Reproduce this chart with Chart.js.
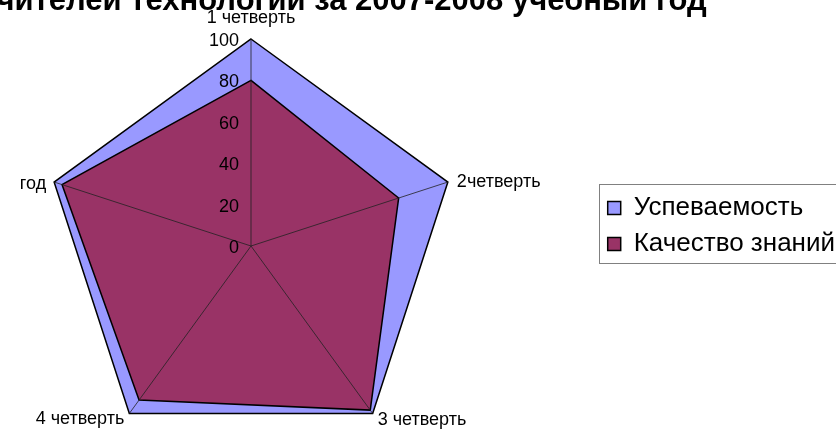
<!DOCTYPE html>
<html>
<head>
<meta charset="utf-8">
<script src="https://cdn.jsdelivr.net/npm/chart.js@4.4.1/dist/chart.umd.min.js"></script>
<style>
  html, body { margin: 0; padding: 0; background: #fff; overflow: hidden; width: 836px; height: 430px; }
  /* canvas is a bit larger than the window so the cut-off title and legend frame match the original */
  #wrap { position: absolute; left: -94px; top: -1px; width: 939px; height: 454px; }
</style>
</head>
<body>
<div id="wrap"><canvas id="myChart"></canvas></div>
<script>
// DATA
const categories = ['1 четверть', '2четверть', '3 четверть', '4 четверть', 'год'];
const progress = [100, 100, 100, 100, 100];   // Успеваемость
const quality = [80, 75, 98, 92, 96];         // Качество знаний
const tickValues = [0, 20, 40, 60, 80, 100];
const titleLines = ['учителей технологии за 2007-2008 учебный год'];

const FONT = '"Liberation Sans", Arial, sans-serif';

// where each category label sits relative to its spoke end
const labelSpots = [
    { align: 'center', dx: 0, dy: -21 },
    { align: 'left', dx: 9, dy: 0 },
    { align: 'left', dx: 5, dy: 7 },
    { align: 'right', dx: -5, dy: 6 },
    { align: 'right', dx: -8, dy: 2 }
];

// spokes, tick numbers and category labels go on top of the filled areas
const overlay = {
    id: 'overlay',
    afterDatasetsDraw(chart) {
        const r = chart.scales.r;
        const ctx = chart.ctx;
        ctx.save();
        ctx.strokeStyle = '#222';
        ctx.lineWidth = 0.8;
        categories.forEach((c, i) => {
            const p = r.getPointPositionForValue(i, r.max);
            ctx.beginPath();
            ctx.moveTo(r.xCenter, r.yCenter);
            ctx.lineTo(p.x, p.y);
            ctx.stroke();
        });

        ctx.fillStyle = '#000';
        ctx.textBaseline = 'middle';
        ctx.font = '18px ' + FONT;
        ctx.textAlign = 'right';
        r.ticks.forEach(t => {
            const y = r.yCenter - r.getDistanceFromCenterForValue(t.value);
            ctx.fillText(String(t.value), r.xCenter - 12, y + 2);
        });

        categories.forEach((c, i) => {
            const p = r.getPointPositionForValue(i, r.max);
            const s = labelSpots[i];
            ctx.textAlign = s.align;
            ctx.fillText(c, p.x + s.dx, p.y + s.dy);
        });
        ctx.restore();
    },
    afterDraw(chart) {
        // grey frame round the legend
        const hb = chart.legend.legendHitBoxes;
        if (!hb || !hb.length) return;
        const last = hb[hb.length - 1];
        const top = hb[0].top - 11;
        const bottom = last.top + last.height + 6;
        const left = hb[0].left - 9;
        const ctx = chart.ctx;
        ctx.save();
        ctx.strokeStyle = '#808080';
        ctx.lineWidth = 1;
        ctx.strokeRect(Math.round(left) + 0.5, Math.round(top) + 0.5, chart.width, Math.round(bottom - top));
        ctx.restore();
    }
};

const radarData = {
    labels: categories,
    datasets: [{
        label: 'Успеваемость',
        data: progress,
        backgroundColor: '#9999ff',
        borderColor: '#000',
        borderWidth: 1.5,
        fill: true,
        order: 1
    }, {
        label: 'Качество знаний',
        data: quality,
        backgroundColor: '#993366',
        borderColor: '#000',
        borderWidth: 1.5,
        fill: true,
        order: 0
    }]
};

const radarConfig = {
    type: 'radar',
    data: radarData,
    options: {
        responsive: true,
        maintainAspectRatio: false,
        animation: false,
        // negative left padding only widens the title box, so the title sits further left
        layout: { padding: { left: -65 } },
        elements: {
            point: { radius: 0, hoverRadius: 0 },
            line: { tension: 0 }
        },
        scales: {
            r: {
                min: 0,
                max: 100,
                afterBuildTicks: s => { s.ticks = tickValues.map(v => ({ value: v })); },
                ticks: { display: false },
                grid: { display: false },
                angleLines: { display: false },
                pointLabels: { display: false }
            }
        },
        plugins: {
            title: {
                display: true,
                text: titleLines,
                color: '#000',
                font: { family: FONT, size: 31, weight: 'bold', lineHeight: 1 },
                padding: { top: -13, bottom: 22 }
            },
            legend: {
                position: 'right',
                labels: {
                    color: '#000',
                    font: { family: FONT, size: 26 },
                    boxWidth: 13,
                    boxHeight: 13,
                    padding: 10,
                    sort: (a, b) => a.datasetIndex - b.datasetIndex
                }
            },
            tooltip: { enabled: false }
        }
    },
    plugins: [overlay]
};

function initChart() {
    const canvas = document.getElementById('myChart');
    new Chart(canvas.getContext('2d'), radarConfig);
}

if (document.readyState === 'loading') {
    document.addEventListener('DOMContentLoaded', initChart);
} else {
    initChart();
}
</script>
</body>
</html>
